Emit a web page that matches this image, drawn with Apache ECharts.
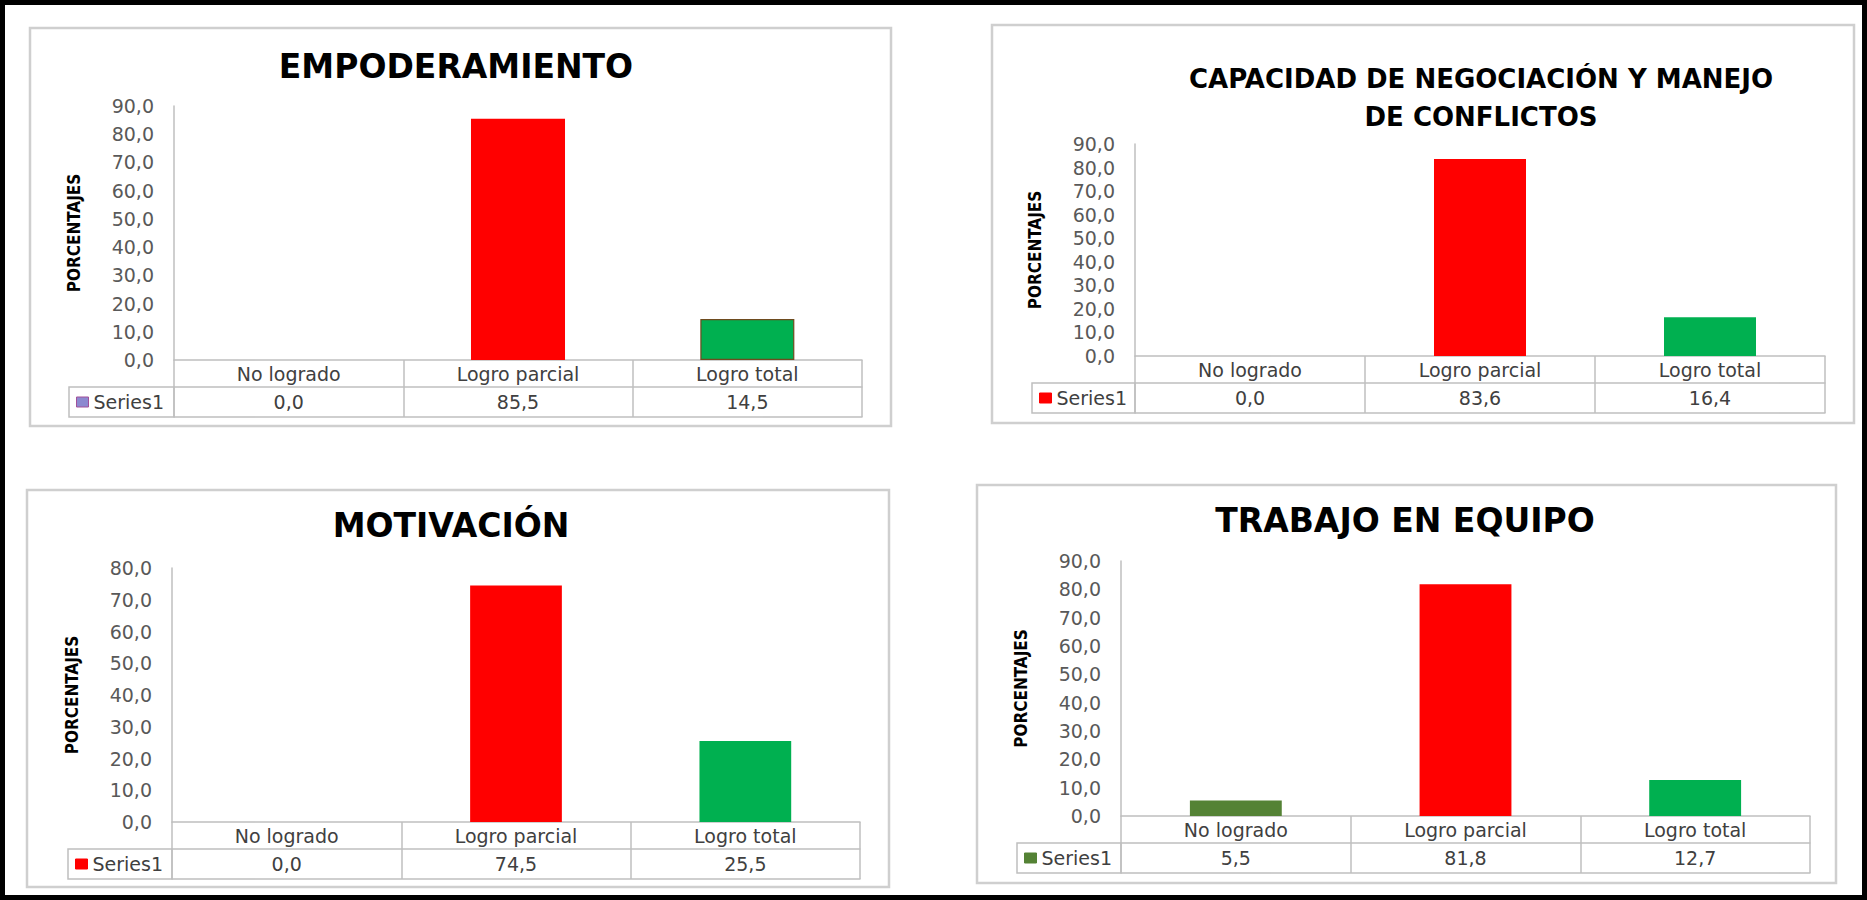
<!DOCTYPE html>
<html>
<head>
<meta charset="utf-8">
<script src="https://cdn.jsdelivr.net/npm/echarts@6/dist/echarts.min.js"></script>
<style>
  html, body { margin: 0; padding: 0; background: #ffffff; }
  #chart { width: 1867px; height: 900px; }
</style>
</head>
<body>
<div id="chart"></div>
<script>
// ---- data ----
const categories = ['No logrado', 'Logro parcial', 'Logro total'];
const empoderamiento = [0.0, 85.5, 14.5];
const negociacion = [0.0, 83.6, 16.4];
const motivacion = [0.0, 74.5, 25.5];
const trabajoEquipo = [5.5, 81.8, 12.7];
const titles = [
  'EMPODERAMIENTO',
  'CAPACIDAD DE NEGOCIACIÓN Y MANEJO\nDE CONFLICTOS',
  'MOTIVACIÓN',
  'TRABAJO EN EQUIPO'
];
const axisMax = [90, 90, 80, 90];
const axisStep = 10;
const axisName = 'PORCENTAJES';
const seriesLabel = 'Series1';

// ---- layout and styling of the four panels ----
const FONT = "'DejaVu Sans', 'Noto Sans', sans-serif";
const NARROW = "'DejaVu Sans Condensed', 'Liberation Sans Narrow', 'DejaVu Sans', sans-serif";
const LINE = '#BFBFBF';
const ROW_H = [27, 30];
const TABLE_FONT = 19;

const panels = [
  { id: 'empoderamiento', values: empoderamiento, title: titles[0], max: axisMax[0],
    frame: [30, 28, 891, 426], grid: [174, 106, 862, 360], legendLeft: 69,
    titleX: 456, titleY: 66, titleSize: 33, titleLine: 38, barWidth: '41%',
    legendColor: '#8C89D0', legendBorder: '#A2509A',
    barColors: ['#8C89D0', '#FF0000', '#00B050'], barBorders: [null, null, '#6E4B1F'] },
  { id: 'negociacion', values: negociacion, title: titles[1], max: axisMax[1],
    frame: [992, 25, 1854, 423], grid: [1135, 144, 1825, 356], legendLeft: 1032,
    titleX: 1481, titleY: 98, titleSize: 26, titleLine: 38, barWidth: '40%',
    legendColor: '#FF0000', legendBorder: '#FF0000',
    barColors: ['#FF0000', '#FF0000', '#00B050'], barBorders: [null, null, null] },
  { id: 'motivacion', values: motivacion, title: titles[2], max: axisMax[2],
    frame: [27, 490, 889, 887], grid: [172, 568, 860, 822], legendLeft: 68,
    titleX: 451, titleY: 525, titleSize: 33, titleLine: 38, barWidth: '40%',
    legendColor: '#FF0000', legendBorder: '#FF0000',
    barColors: ['#FF0000', '#FF0000', '#00B050'], barBorders: [null, null, null] },
  { id: 'trabajo', values: trabajoEquipo, title: titles[3], max: axisMax[3],
    frame: [977, 485, 1836, 883], grid: [1121, 561, 1810, 816], legendLeft: 1017,
    titleX: 1405, titleY: 520, titleSize: 33, titleLine: 38, barWidth: '40%',
    legendColor: '#548235', legendBorder: '#548235',
    barColors: ['#548235', '#FF0000', '#00B050'], barBorders: [null, null, null] }
];

const fmt = v => v.toFixed(1).replace('.', ',');

const grids = [], xAxes = [], yAxes = [], series = [], legends = [], graphics = [];

// outer black frame of the sheet
graphics.push({
  type: 'rect', silent: true,
  shape: { x: 2.5, y: 2.5, width: 1862, height: 895 },
  style: { fill: 'none', stroke: '#000000', lineWidth: 5 }
});

panels.forEach((p, i) => {
  const [gl, gt, gr, gb] = p.grid;
  grids.push({ left: gl, top: gt, width: gr - gl, height: gb - gt, containLabel: false });

  // row 1 of the data table: category names, cell borders come from the ticks
  xAxes.push({
    gridIndex: i, type: 'category', data: categories, position: 'bottom', boundaryGap: true,
    axisLine: { show: true, lineStyle: { color: LINE, width: 1.5 } },
    axisTick: { show: true, length: ROW_H[0] + ROW_H[1], lineStyle: { color: LINE, width: 1.5 } },
    axisLabel: { margin: ROW_H[0] / 2, verticalAlign: 'middle', fontFamily: FONT, fontSize: TABLE_FONT, color: '#404040' }
  });
  // row 2 of the data table: the values of each bar
  xAxes.push({
    gridIndex: i, type: 'category', data: categories, position: 'bottom', offset: ROW_H[0],
    axisLine: { show: true, lineStyle: { color: LINE, width: 1.5 } },
    axisTick: { show: false },
    axisLabel: {
      margin: ROW_H[1] / 2, verticalAlign: 'middle', fontFamily: FONT, fontSize: TABLE_FONT, color: '#404040',
      formatter: (val, idx) => fmt(p.values[idx])
    }
  });
  // bottom border of the data table
  xAxes.push({
    gridIndex: i, type: 'category', data: categories, position: 'bottom', offset: ROW_H[0] + ROW_H[1],
    axisLine: { show: true, lineStyle: { color: LINE, width: 1.5 } },
    axisTick: { show: false }, axisLabel: { show: false }
  });

  yAxes.push({
    gridIndex: i, type: 'value', min: 0, max: p.max, interval: axisStep,
    axisLine: { show: true, lineStyle: { color: LINE, width: 1.5 } },
    axisTick: { show: false }, splitLine: { show: false },
    axisLabel: { margin: 20, fontFamily: FONT, fontSize: 19, color: '#595959', formatter: v => fmt(v) },
    name: axisName, nameLocation: 'middle', nameRotate: 90, nameGap: 92,
    nameTextStyle: { fontFamily: NARROW, fontWeight: 'bold', fontSize: 17, color: '#000000' }
  });

  series.push({
    name: p.id, type: 'bar', xAxisIndex: i * 3, yAxisIndex: i,
    barWidth: p.barWidth,
    itemStyle: { color: p.legendColor },
    data: p.values.map((v, j) => ({
      value: v,
      itemStyle: p.barBorders[j]
        ? { color: p.barColors[j], borderColor: p.barBorders[j], borderWidth: 1.2 }
        : { color: p.barColors[j] }
    }))
  });

  const row2Top = gb + ROW_H[0];
  legends.push({
    data: [p.id], left: p.legendLeft + 7, top: row2Top + (ROW_H[1] - 20) / 2,
    padding: 0, itemWidth: 12, itemHeight: 10, icon: 'rect', selectedMode: false,
    itemStyle: { borderColor: p.legendBorder, borderWidth: 1 },
    formatter: () => seriesLabel,
    textStyle: { fontFamily: FONT, fontSize: TABLE_FONT, color: '#404040', lineHeight: 20 }
  });

  // panel frame
  const [fx0, fy0, fx1, fy1] = p.frame;
  graphics.push({
    type: 'rect', silent: true, z: -1,
    shape: { x: fx0, y: fy0, width: fx1 - fx0, height: fy1 - fy0 },
    style: { fill: 'none', stroke: '#CFCFCF', lineWidth: 2.5 }
  });
  // series cell of the data table
  graphics.push({
    type: 'rect', silent: true,
    shape: { x: p.legendLeft, y: row2Top, width: gl - p.legendLeft, height: ROW_H[1] },
    style: { fill: 'none', stroke: LINE, lineWidth: 1.5 }
  });
  // panel title
  graphics.push({
    type: 'text', silent: true, x: p.titleX, y: p.titleY,
    style: {
      text: p.title, fill: '#000000', fontFamily: FONT, fontWeight: 'bold', fontSize: p.titleSize,
      lineHeight: p.titleLine, textAlign: 'center', textVerticalAlign: 'middle',
      align: 'center', verticalAlign: 'middle'
    }
  });
});

const chart = echarts.init(document.getElementById('chart'), null, { renderer: 'svg' });
chart.setOption({
  animation: false,
  backgroundColor: '#ffffff',
  grid: grids,
  xAxis: xAxes,
  yAxis: yAxes,
  legend: legends,
  series: series,
  graphic: graphics
});
</script>
</body>
</html>
